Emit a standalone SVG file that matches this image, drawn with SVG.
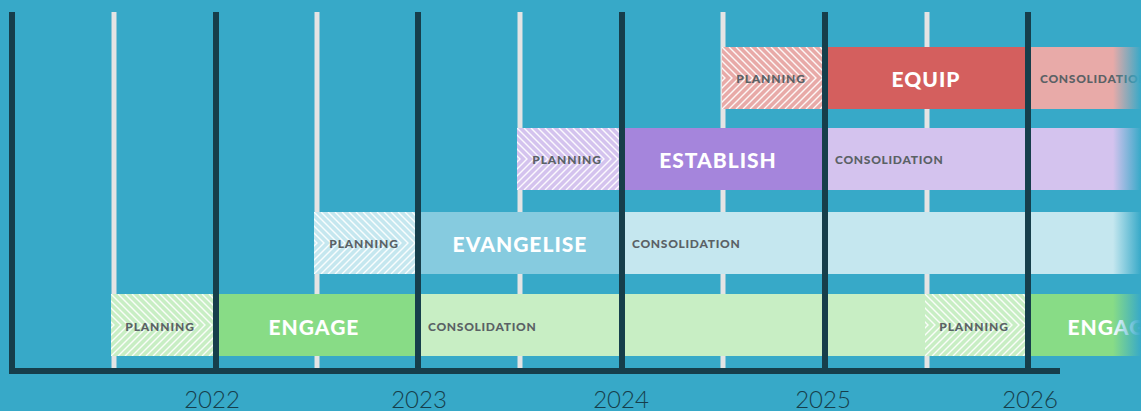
<svg xmlns="http://www.w3.org/2000/svg" width="1141" height="411" viewBox="0 0 1141 411">
<style>
.bg{fill:#37a9c8}
.grid{fill:#e4e4e4}
.dark{fill:#163e4b}
.plan{font-family:Lato,"Liberation Sans",sans-serif;font-weight:900;font-size:12px;letter-spacing:0.9px;fill:#5a6165;text-anchor:middle;dominant-baseline:central}
.cons{font-family:Lato,"Liberation Sans",sans-serif;font-weight:900;font-size:12px;letter-spacing:0.7px;fill:#5a6165;dominant-baseline:central}
.main{font-family:Lato,"Liberation Sans",sans-serif;font-weight:900;font-size:21px;letter-spacing:1px;fill:#ffffff;text-anchor:middle;dominant-baseline:central}
.year{font-family:Lato,"Liberation Sans",sans-serif;font-weight:300;font-size:24px;fill:#163e4b;text-anchor:middle}
.chev{fill:url(#chev)}
</style>
<defs>
<pattern id="chev" patternUnits="userSpaceOnUse" width="7" height="62">
<g fill="none" stroke="#ffffff" stroke-width="1.4" stroke-opacity="0.9">
<path d="M7,0 L38,31 L7,62"/>
<path d="M0,0 L31,31 L0,62"/>
<path d="M-7,0 L24,31 L-7,62"/>
<path d="M-14,0 L17,31 L-14,62"/>
<path d="M-21,0 L10,31 L-21,62"/>
<path d="M-28,0 L3,31 L-28,62"/>
<path d="M-35,0 L-4,31 L-35,62"/>
</g>
</pattern>
<linearGradient id="fade" x1="0" y1="0" x2="1" y2="0">
<stop offset="0" stop-color="#37a9c8" stop-opacity="0"/>
<stop offset="1" stop-color="#37a9c8" stop-opacity="1"/>
</linearGradient>
</defs>
<rect class="bg" x="0" y="0" width="1141" height="411"/>
<g id="gridlines">
<rect class="grid" x="111.5" y="12" width="5" height="357"/>
<rect class="grid" x="314.5" y="12" width="5" height="357"/>
<rect class="grid" x="517.5" y="12" width="5" height="357"/>
<rect class="grid" x="720.5" y="12" width="5" height="357"/>
<rect class="grid" x="924.5" y="12" width="5" height="357"/>
</g>
<g id="row-equip">
<g id="equip-planning" transform="translate(722,47)">
<rect x="0" y="0" width="103" height="62" fill="#e8aaa8"/>
<rect class="chev" x="0" y="0" width="103" height="62"/>
<text class="plan" x="49" y="31">PLANNING</text>
</g>
<g id="equip-main">
<rect x="825" y="47" width="203" height="62" fill="#d45f5e"/>
<text class="main" x="926" y="78">EQUIP</text>
</g>
<g id="equip-consolidation">
<rect x="1028" y="47" width="113" height="62" fill="#e8aaa8"/>
<text class="cons" x="1040" y="78">CONSOLIDATION</text>
</g>
</g>
<g id="row-establish">
<g id="establish-planning" transform="translate(517,128)">
<rect x="0" y="0" width="105" height="62" fill="#d4c3ee"/>
<rect class="chev" x="0" y="0" width="105" height="62"/>
<text class="plan" x="50" y="31">PLANNING</text>
</g>
<g id="establish-main">
<rect x="622" y="128" width="203" height="62" fill="#a585dc"/>
<text class="main" x="718" y="159">ESTABLISH</text>
</g>
<g id="establish-consolidation">
<rect x="825" y="128" width="316" height="62" fill="#d4c3ee"/>
<text class="cons" x="835" y="159">CONSOLIDATION</text>
</g>
</g>
<g id="row-evangelise">
<g id="evangelise-planning" transform="translate(314,212)">
<rect x="0" y="0" width="104" height="62" fill="#c5e7ef"/>
<rect class="chev" x="0" y="0" width="104" height="62"/>
<text class="plan" x="50" y="31">PLANNING</text>
</g>
<g id="evangelise-main">
<rect x="418" y="212" width="204" height="62" fill="#86cbdf"/>
<text class="main" x="520" y="243">EVANGELISE</text>
</g>
<g id="evangelise-consolidation">
<rect x="622" y="212" width="519" height="62" fill="#c5e7ef"/>
<text class="cons" x="632" y="243">CONSOLIDATION</text>
</g>
</g>
<g id="row-engage">
<g id="engage-planning" transform="translate(111,294)">
<rect x="0" y="0" width="105" height="62" fill="#c8eec4"/>
<rect class="chev" x="0" y="0" width="105" height="62"/>
<text class="plan" x="49" y="32">PLANNING</text>
</g>
<g id="engage-main">
<rect x="216" y="294" width="202" height="62" fill="#88dc86"/>
<text class="main" x="314" y="326">ENGAGE</text>
</g>
<g id="engage-consolidation">
<rect x="418" y="294" width="510" height="62" fill="#c8eec4"/>
<text class="cons" x="428" y="326">CONSOLIDATION</text>
</g>
<g id="engage2-planning" transform="translate(925,294)">
<rect x="0" y="0" width="103" height="62" fill="#c8eec4"/>
<rect class="chev" x="0" y="0" width="103" height="62"/>
<text class="plan" x="49" y="32">PLANNING</text>
</g>
<g id="engage2-main">
<rect x="1028" y="294" width="113" height="62" fill="#88dc86"/>
<text class="main" x="1113" y="326">ENGAGE</text>
</g>
</g>
<rect x="1113" y="40" width="28" height="325" fill="url(#fade)"/>
<g id="axes">
<rect class="dark" x="9" y="12" width="6" height="362"/>
<rect class="dark" x="213" y="12" width="6" height="362"/>
<rect class="dark" x="415" y="12" width="6" height="362"/>
<rect class="dark" x="619" y="12" width="6" height="362"/>
<rect class="dark" x="822" y="12" width="6" height="362"/>
<rect class="dark" x="1025" y="12" width="6" height="362"/>
<rect class="dark" x="9" y="368" width="1051" height="6"/>
</g>
<g id="years">
<text class="year" x="212" y="408">2022</text>
<text class="year" x="419" y="408">2023</text>
<text class="year" x="621" y="408">2024</text>
<text class="year" x="823" y="408">2025</text>
<text class="year" x="1030" y="408">2026</text>
</g>
</svg>
